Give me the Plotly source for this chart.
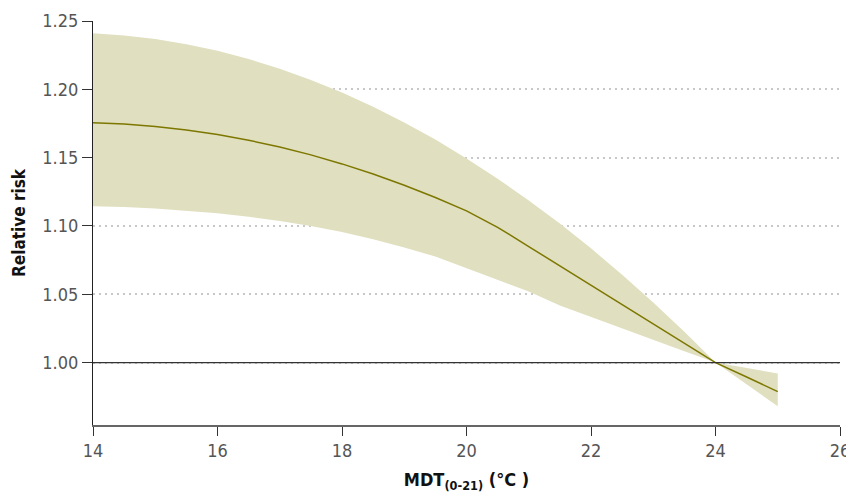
import plotly.graph_objects as go

temp = [14, 14.5, 15, 15.5, 16, 16.5, 17, 17.5, 18, 18.5, 19, 19.5, 20, 20.5,
        21, 21.5, 22, 22.5, 23, 23.5, 24, 24.5, 25]
rr_center = [1.1755, 1.1746, 1.1728, 1.1702, 1.1669, 1.1627, 1.1578, 1.1520, 1.1454, 1.1380,
             1.1298, 1.1208, 1.1110, 1.0990, 1.0849, 1.0707, 1.0566, 1.0424, 1.0283, 1.0141,
             1.0000, 0.9894, 0.9787]
rr_upper = [1.2410, 1.2394, 1.2368, 1.2330, 1.2282, 1.2222, 1.2151, 1.2069, 1.1976, 1.1873,
            1.1758, 1.1632, 1.1494, 1.1346, 1.1187, 1.1017, 1.0836, 1.0643, 1.0440, 1.0226,
            1.0000, 0.9960, 0.9920]
rr_lower = [1.1144, 1.1138, 1.1128, 1.1113, 1.1093, 1.1068, 1.1037, 1.0999, 1.0955, 1.0903,
            1.0843, 1.0776, 1.0690, 1.0607, 1.0520, 1.0418, 1.0333, 1.0250, 1.0167, 1.0083,
            1.0000, 0.9840, 0.9680]

y_ticks = [1.00, 1.05, 1.10, 1.15, 1.20, 1.25]
y_tick_text = ["1.00", "1.05", "1.10", "1.15", "1.20", "1.25"]
x_ticks = [14, 16, 18, 20, 22, 24, 26]

TICK_FONT = "DejaVu Sans Condensed, sans-serif"
TITLE_FONT = "DejaVu Sans Condensed, sans-serif"

fig = go.Figure()
fig.add_trace(go.Scatter(
    x=temp + temp[::-1],
    y=rr_upper + rr_lower[::-1],
    fill="toself", fillcolor="#e0dfbf",
    line=dict(width=0), mode="lines", hoverinfo="skip", showlegend=False,
))
fig.add_trace(go.Scatter(
    x=temp, y=rr_center, mode="lines",
    line=dict(color="#7d7700", width=1.5), showlegend=False,
))
fig.add_shape(type="line", xref="paper", yref="y", x0=0, x1=1, y0=1.0, y1=1.0,
              line=dict(color="#333333", width=1.2), layer="above")

fig.update_layout(
    width=846, height=495,
    margin=dict(l=93, r=6, t=21, b=70),
    plot_bgcolor="white", paper_bgcolor="white",
    font=dict(family=TICK_FONT, color="#555555", size=18),
    xaxis=dict(
        range=[14, 26], tickvals=x_ticks, showgrid=False, zeroline=False,
        showline=True, linecolor="#666666", linewidth=1.5, automargin=False,
        ticks="outside", ticklen=9, tickcolor="#333333", tickwidth=1,
        ticklabeloverflow="allow",
        tickfont=dict(family=TICK_FONT, size=18, color="#555555"),
        title=dict(text="<b>MDT<sub>(0-21)</sub> (°C )</b>", standoff=13,
                   font=dict(family=TITLE_FONT, size=18, color="#111111")),
    ),
    yaxis=dict(
        range=[0.9543, 1.25], tickvals=y_ticks, ticktext=y_tick_text,
        showgrid=True, gridcolor="#c8c8c8", griddash="2px,4px", gridwidth=1.5,
        zeroline=False, showline=True, linecolor="#222222", linewidth=1.2,
        automargin=False,
        ticks="outside", ticklen=10, tickcolor="#333333", tickwidth=1,
        tickfont=dict(family=TICK_FONT, size=18, color="#555555"),
        title=dict(text="<b>Relative risk</b>", standoff=12,
                   font=dict(family=TITLE_FONT, size=17, color="#111111")),
    ),
)

fig.write_html(
    "out.html",
    config={"displayModeBar": False},
    post_script="document.body.style.margin='0';document.body.style.overflow='hidden';",
)
